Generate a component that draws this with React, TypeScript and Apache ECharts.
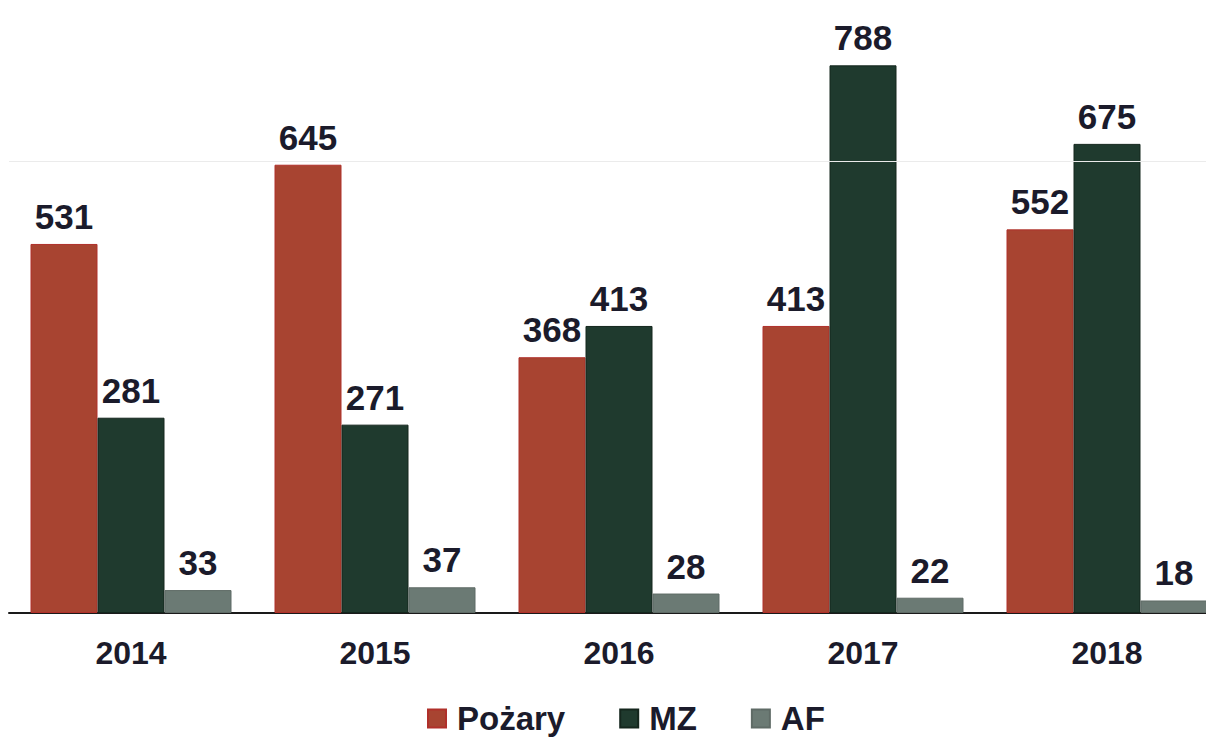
import React, { useEffect, useRef } from "react";
import * as echarts from "echarts";

const categories = ["2014", "2015", "2016", "2017", "2018"];
const pozary = [531, 645, 368, 413, 552];
const mz = [281, 271, 413, 788, 675];
const af = [33, 37, 28, 22, 18];
const seriesNames = ["Pożary", "MZ", "AF"];
const gridLineValue = 650;

export default function App() {
  const ref = useRef<HTMLDivElement>(null);
  useEffect(() => {
    if (!ref.current) return;
    const chart = echarts.init(ref.current, undefined, { renderer: "svg" });
    const font = "'Liberation Sans', Arial, sans-serif";
    const label = {
      show: true,
      position: "top",
      distance: 10,
      fontSize: 35,
      fontWeight: "bold",
      fontFamily: font,
      color: "#1b1b2b",
    };
    const mk = (name: string, data: number[], color: string, border: string, extra: any = {}) => ({
      name,
      type: "bar",
      data,
      barWidth: 67,
      barGap: "0%",
      itemStyle: { color, borderColor: border, borderWidth: 1 },
      label,
      ...extra,
    });
    chart.setOption({
      animation: false,
      backgroundColor: "#ffffff",
      grid: { left: 9, right: 11, top: 57, bottom: 125, containLabel: false },
      legend: {
        data: seriesNames,
        left: 422,
        top: 697,
        itemWidth: 18,
        itemHeight: 18,
        itemGap: 54,
        icon: "rect",
        textStyle: {
          fontSize: 33,
          lineHeight: 30,
          fontWeight: "bold",
          fontFamily: font,
          color: "#1b1b2b",
          padding: [0, 0, 0, 6],
        },
      },
      xAxis: {
        type: "category",
        data: categories,
        axisLine: { show: true, lineStyle: { color: "#1a1a1a", width: 2 } },
        axisTick: { show: false },
        axisLabel: {
          margin: 24,
          fontSize: 32,
          fontWeight: "bold",
          fontFamily: font,
          color: "#1b1b2b",
        },
      },
      yAxis: {
        type: "value",
        min: 0,
        max: 800,
        show: false,
        splitLine: { show: false },
      },
      series: [
        mk("Pożary", pozary, "#a84431", "#b0302a", {
          markLine: {
            silent: true,
            symbol: "none",
            label: { show: false },
            lineStyle: { color: "#ebebeb", type: "solid", width: 1 },
            data: [{ yAxis: gridLineValue }],
          },
        }),
        mk("MZ", mz, "#1f3a2e", "#14261d"),
        mk("AF", af, "#6b7a74", "#5f6b66"),
      ],
    });
    return () => chart.dispose();
  }, []);
  return (
    <div
      style={{
        position: "fixed",
        left: 0,
        top: 0,
        width: 1206,
        height: 738,
        overflow: "hidden",
      }}
    >
      <div ref={ref} style={{ width: 1240, height: 738 }} />
    </div>
  );
}
